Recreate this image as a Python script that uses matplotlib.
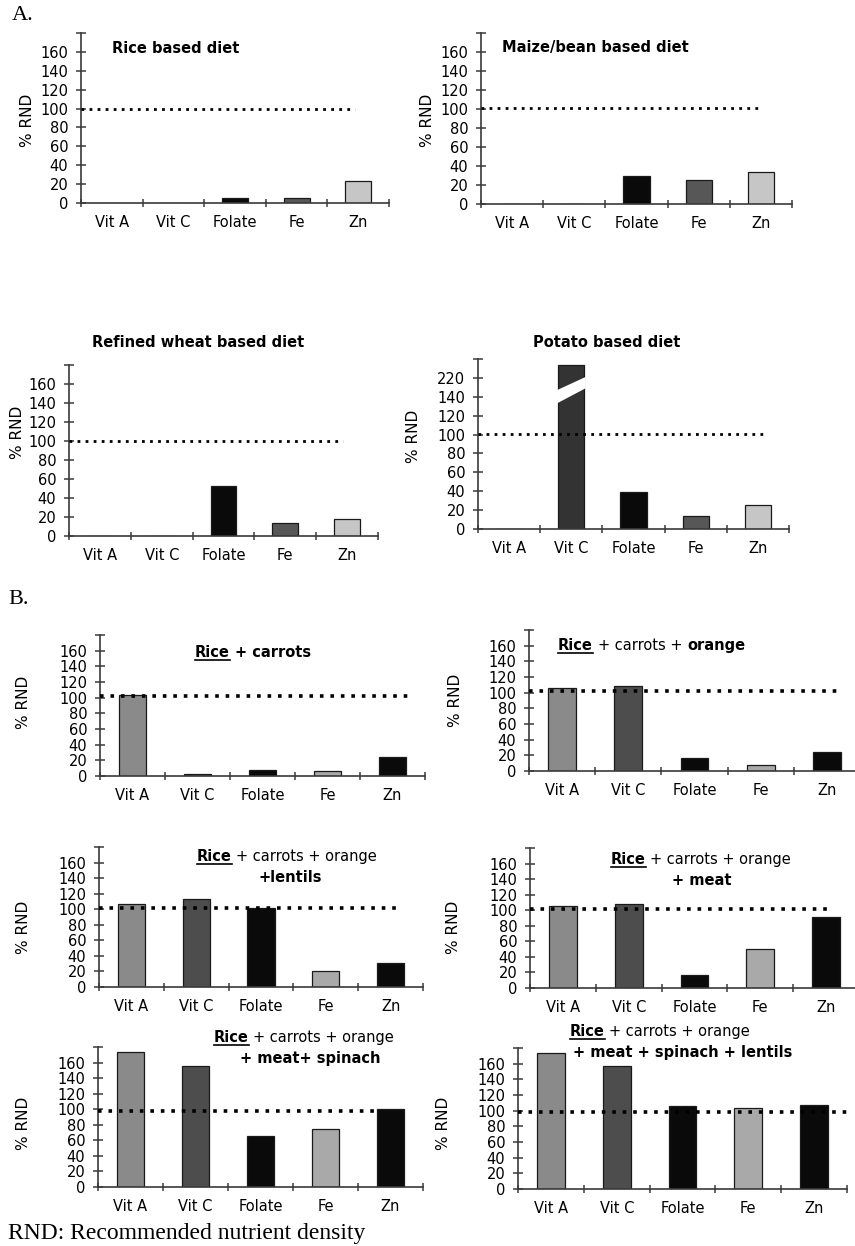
import numpy as np
import matplotlib.pyplot as plt
from matplotlib.lines import Line2D
from matplotlib.patches import Polygon

# figure size in pixels
W, H = 855, 1246

nutrients = ["Vit A", "Vit C", "Folate", "Fe", "Zn"]

# % RND values
rice = [0, 0, 5.6, 5.6, 23.3]
maize_bean = [0, 0, 29.8, 25.3, 33.7]
wheat = [0, 0, 53, 13.4, 17.9]
potato = [0, 174, 39.5, 14, 25]   # Vit C is drawn on a broken axis (> 220)
rice_carrots = [103, 2.5, 7.7, 6.8, 24]
rice_carrots_orange = [106, 108.6, 16.6, 7.7, 24]
plus_lentils = [106.7, 113, 101.5, 20.6, 31]
plus_meat = [105.4, 108, 16.7, 50, 91]
plus_meat_spinach = [173.5, 155.5, 65.5, 74.5, 100]
plus_all = [174, 157, 106, 103.4, 107]

colors_a = ["#8c8c8c", "#333333", "#0a0a0a", "#575757", "#c6c6c6"]
colors_b = ["#8a8a8a", "#4d4d4d", "#0a0a0a", "#a9a9a9", "#0a0a0a"]

fig = plt.figure(figsize=(W / 100, H / 100), dpi=100)
fig.patch.set_facecolor("white")


def fx(x):
    return x / W


def fy(y):
    return 1 - y / H


def panel(box, values, colors, ref_level, ref_end, dot_lw=2.0, ylabels=None):
    # box = left px, top px (value 180), right px (x = 5), bottom px (value 0)
    x0, ytop, x1, ybot = box
    ax = fig.add_axes([fx(x0), fy(ybot), (x1 - x0) / W, (ybot - ytop) / H])
    ax.patch.set_visible(False)
    ax.set_xlim(0, 5)
    ax.set_ylim(0, 180)
    pos = np.arange(len(nutrients)) + 0.5
    ax.bar(pos, values, width=0.42, color=colors, edgecolor="#1a1a1a",
           linewidth=0.9, zorder=2)
    ax.plot([0, ref_end], [ref_level, ref_level], color="black", lw=dot_lw,
            linestyle=(0, (1, 1.9)), zorder=3, clip_on=False)

    for s in ["top", "right"]:
        ax.spines[s].set_visible(False)
    for s in ["left", "bottom"]:
        ax.spines[s].set_color("#3a3a3a")
        ax.spines[s].set_linewidth(1.2)

    ax.set_yticks(np.arange(0, 181, 20))
    if ylabels is None:
        ylabels = [str(v) for v in range(0, 161, 20)] + [""]
    ax.set_yticklabels(ylabels)
    ax.set_xticks(np.arange(6))
    ax.set_xticklabels([])
    ax.set_xticks(pos, minor=True)
    ax.set_xticklabels(nutrients, minor=True)
    ax.tick_params(axis="y", direction="inout", length=6.5, width=1.1,
                   color="#3a3a3a", labelsize=10.5, pad=6)
    ax.tick_params(axis="x", which="major", direction="inout", length=6,
                   width=1.1, color="#3a3a3a")
    ax.tick_params(axis="x", which="minor", length=0, labelsize=10.5, pad=8.5)
    return ax


def ylab(x, y):
    fig.text(fx(x), fy(y), "% RND", rotation=90, ha="center", va="center",
             fontsize=11)


renderer = fig.canvas.get_renderer()


def rich(x, y, pieces, size=10.5, align="center"):
    # pieces: (text, bold, underline); y is the baseline in px
    arts = []
    widths = []
    for s, bold, ul in pieces:
        t = fig.text(0, 0, s, fontsize=size, va="baseline", ha="left",
                     fontweight="bold" if bold else "normal")
        widths.append(t.get_window_extent(renderer).width)
        arts.append(t)
    gap = 0.33 * size * 100 / 72
    total = sum(widths) + gap * (len(pieces) - 1)
    cur = x - total / 2 if align == "center" else x
    for t, w, (s, bold, ul) in zip(arts, widths, pieces):
        t.set_position((fx(cur), fy(y)))
        if ul:
            fig.add_artist(Line2D([fx(cur), fx(cur + w)], [fy(y + 3), fy(y + 3)],
                                  color="black", lw=1.2))
        cur += w + gap


# ---- A. single staple diets
panel((81, 33, 389, 203), rice, colors_a, 100, 4.45)
rich(112, 53, [("Rice based diet", True, False)], align="left")
ylab(27, 120)

panel((481, 33, 792, 204), maize_bean, colors_a, 101, 4.45)
rich(502, 52, [("Maize/bean based diet", True, False)], align="left")
ylab(427, 120)

panel((69, 365, 378, 536), wheat, colors_a, 100, 4.43)
rich(198, 347, [("Refined wheat based diet", True, False)])
ylab(18, 432)

pot_labels = [str(v) for v in range(0, 141, 20)] + ["220", ""]
ax = panel((478, 359, 789, 529), potato, colors_a, 101, 4.58,
           ylabels=pot_labels)
# white slanted band marking the axis break on the Vit C bar
bx0, bx1 = 1.5 - 0.23, 1.5 + 0.23
ax.add_patch(Polygon([(bx0, 133), (bx1, 149), (bx1, 161), (bx0, 147)],
                     closed=True, facecolor="white", edgecolor="none", zorder=2.5))
rich(607, 347, [("Potato based diet", True, False)])
ylab(413, 436)

# ---- B. rice diet with added foods
panel((100, 635, 425, 776), rice_carrots, colors_b, 102.5, 4.82, dot_lw=2.6)
rich(253, 657, [("Rice", True, True), ("+ carrots", True, False)])
ylab(23, 702)

panel((529, 630, 860, 771), rice_carrots_orange, colors_b, 102, 4.65, dot_lw=2.6)
rich(558, 650, [("Rice", True, True), ("+ carrots +", False, False),
                ("orange", True, False)], align="left")
ylab(455, 700)

panel((99, 847, 423, 987), plus_lentils, colors_b, 102, 4.68, dot_lw=2.6)
rich(287, 861, [("Rice", True, True), ("+ carrots + orange", False, False)])
rich(290, 882, [("+lentils", True, False)])
ylab(23, 927)

panel((530, 848, 859, 988), plus_meat, colors_b, 102, 4.59, dot_lw=2.6)
rich(701, 864, [("Rice", True, True), ("+ carrots + orange", False, False)])
rich(702, 885, [("+ meat", True, False)])
ylab(453, 927)

panel((98, 1047, 423, 1187), plus_meat_spinach, colors_b, 98, 4.26, dot_lw=2.6)
rich(304, 1042, [("Rice", True, True), ("+ carrots + orange", False, False)])
rich(310, 1063, [("+ meat+ spinach", True, False)])
ylab(23, 1123)

panel((518, 1048, 847, 1189), plus_all, colors_b, 98, 5.0, dot_lw=2.6)
rich(660, 1036, [("Rice", True, True), ("+ carrots + orange", False, False)])
rich(683, 1057, [("+ meat + spinach + lentils", True, False)])
ylab(443, 1123)

# section letters and footnote
serif = ["Liberation Serif", "DejaVu Serif"]
fig.text(fx(12), fy(15), "A.", family=serif, fontsize=16, ha="left", va="center")
fig.text(fx(8), fy(600), "B.", family=serif, fontsize=16, ha="left", va="center")
fig.text(fx(8), fy(1233), "RND: Recommended nutrient density", family=serif,
         fontsize=17, ha="left", va="center")

fig.savefig("out.png", dpi=100)
